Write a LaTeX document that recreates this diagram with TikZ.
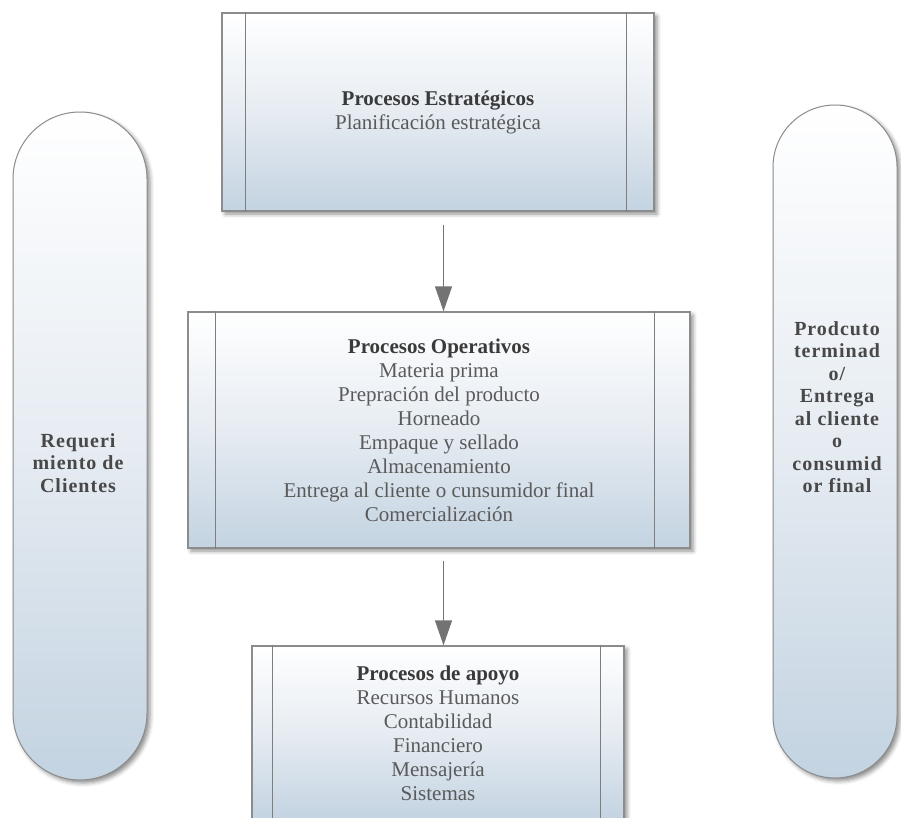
\documentclass[tikz,border=0pt]{standalone}
\usepackage{fontspec}
\setmainfont{Liberation Serif}
\newfontfamily\pillfont[LetterSpace=5]{Liberation Serif}
\usetikzlibrary{arrows.meta,shadows.blur}

\definecolor{edgegray}{HTML}{8C8C8C}
\definecolor{stripgray}{HTML}{7E7E7E}
\definecolor{steel}{HTML}{C3D3E1}
\definecolor{steelmid}{HTML}{E6ECF2}
\definecolor{titlegray}{HTML}{3A3A3A}
\definecolor{itemgray}{HTML}{5A5A5A}
\definecolor{pilltext}{HTML}{484848}
\definecolor{arrowgray}{HTML}{737373}

\tikzset{
  softshadow/.style={blur shadow={shadow xshift=3pt, shadow yshift=-3pt,
      shadow blur radius=4pt, shadow opacity=45}},
  procbox/.style={draw=edgegray, line width=1.4pt, inner sep=0pt,
      top color=white, bottom color=steel, middle color=steelmid,
      softshadow, align=center, text=itemgray,
      font=\fontsize{21}{24}\selectfont},
  pill/.style={draw=edgegray, line width=1pt, inner sep=0pt,
      top color=white, bottom color=steel, middle color=steelmid,
      softshadow},
  pilllabel/.style={align=center, text=pilltext, inner sep=0pt,
      font=\pillfont\bfseries\fontsize{20}{22.5}\selectfont},
  strip/.style={draw=stripgray, line width=1.4pt},
  flow/.style={draw=arrowgray, line width=1.5pt,
      -{Triangle[width=17pt,length=25pt]}},
}
\newcommand{\boxtitle}[1]{\textcolor{titlegray}{\bfseries #1}}

\begin{document}
\begin{tikzpicture}[x=1pt,y=-1pt]
\useasboundingbox (0,0) rectangle (901,817);
\clip (0,0) rectangle (901,817);

% side capsules
\node[pill, rounded corners=67pt, minimum width=134pt, minimum height=668pt]
  (req) at (80,446) {};
\node[pilllabel] (reqtext) at (78,463) {Requeri\\miento de\\Clientes};

\node[pill, rounded corners=62pt, minimum width=124pt, minimum height=673pt]
  (prod) at (835,441.5) {};
\node[pilllabel] (prodtext) at (837,407)
  {Prodcuto\\terminad\\o/\\Entrega\\al cliente\\o\\consumid\\or final};

% process boxes
\node[procbox, minimum width=432pt, minimum height=198pt] (top) at (438,112)
  {\boxtitle{Procesos Estratégicos}\\Planificación estratégica};

\node[procbox, minimum width=502pt, minimum height=236pt] (mid) at (439,430)
  {\boxtitle{Procesos Operativos}\\Materia prima\\Prepración del producto\\
   Horneado\\Empaque y sellado\\Almacenamiento\\
   Entrega al cliente o cunsumidor final\\Comercialización};

\node[procbox, minimum width=372pt, minimum height=174pt] (bot) at (438,733)
  {\boxtitle{Procesos de apoyo}\\Recursos Humanos\\Contabilidad\\
   Financiero\\Mensajería\\Sistemas};

% inner vertical strips of the process boxes
\draw[strip] ([xshift=24pt]top.north west) -- ([xshift=24pt]top.south west);
\draw[strip] ([xshift=-28pt]top.north east) -- ([xshift=-28pt]top.south east);
\draw[strip] ([xshift=28pt]mid.north west) -- ([xshift=28pt]mid.south west);
\draw[strip] ([xshift=-36pt]mid.north east) -- ([xshift=-36pt]mid.south east);
\draw[strip] ([xshift=21pt]bot.north west) -- ([xshift=21pt]bot.south west);
\draw[strip] ([xshift=-24pt]bot.north east) -- ([xshift=-24pt]bot.south east);

% connectors
\coordinate (ax) at (443.5,0);
\draw[flow, shorten <=13pt] (top.south -| ax) -- (mid.north -| ax);
\draw[flow, shorten <=12pt] (mid.south -| ax) -- (bot.north -| ax);
\end{tikzpicture}
\end{document}
